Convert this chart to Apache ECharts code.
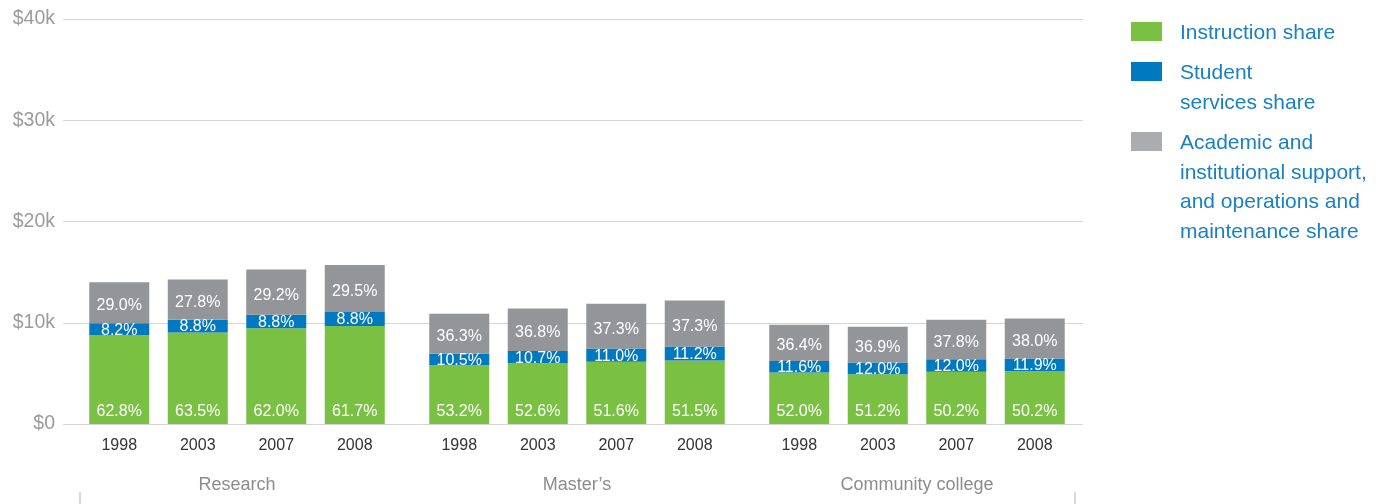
<!DOCTYPE html>
<html>
<head>
<meta charset="utf-8">
<script src="https://cdn.jsdelivr.net/npm/echarts@6/dist/echarts.min.js"></script>
<style>
  html, body { margin: 0; padding: 0; background: #ffffff; }
  #chart { width: 1392px; height: 504px; }
</style>
</head>
<body>
<div id="chart"></div>
<script>
// Spending per student by institution type, split into shares
const years = ['1998', '2003', '2007', '2008'];
const groups = ['Research', 'Master\u2019s', 'Community college'];

// Total spending per student (dollars)
const researchTotal = [14000, 14250, 15250, 15700];
const mastersTotal = [10900, 11400, 11900, 12200];
const communityTotal = [9800, 9600, 10300, 10400];

// Shares of the total (percent)
const researchInstruction = [62.8, 63.5, 62.0, 61.7];
const researchStudent = [8.2, 8.8, 8.8, 8.8];
const researchSupport = [29.0, 27.8, 29.2, 29.5];

const mastersInstruction = [53.2, 52.6, 51.6, 51.5];
const mastersStudent = [10.5, 10.7, 11.0, 11.2];
const mastersSupport = [36.3, 36.8, 37.3, 37.3];

const communityInstruction = [52.0, 51.2, 50.2, 50.2];
const communityStudent = [11.6, 12.0, 12.0, 11.9];
const communitySupport = [36.4, 36.9, 37.8, 38.0];

const yTicks = [0, 10000, 20000, 30000, 40000];

const shareNames = [
  'Instruction share',
  'Student\nservices share',
  'Academic and\ninstitutional support,\nand operations and\nmaintenance share'
];
const shareColors = ['#7ac143', '#0079c1', '#939598'];
const legendColors = ['#7ac143', '#0079c1', '#abacaf'];

const totals = [researchTotal, mastersTotal, communityTotal];
const shares = [
  [researchInstruction, researchStudent, researchSupport],
  [mastersInstruction, mastersStudent, mastersSupport],
  [communityInstruction, communityStudent, communitySupport]
];

const FONT = '"Liberation Sans", Arial, Helvetica, sans-serif';
const yMin = yTicks[0];
const yMax = yTicks[yTicks.length - 1];
const yStep = yTicks[1] - yTicks[0];

// Layout: one background grid for the value scale, one grid per group
const plotTop = 19, plotBottom = 80;
const groupLefts = [80, 420, 760];
const groupWidth = 314;

const grids = [{ left: 63, right: 309, top: plotTop, bottom: plotBottom }];
groupLefts.forEach(l => grids.push({ left: l, width: groupWidth, top: plotTop, bottom: plotBottom }));
// bracket ticks under the group names
grids.push({ left: 80, right: 317, bottom: 12, height: 1 });

const xAxes = [{ gridIndex: 0, type: 'category', data: [''], show: false }];
const yAxes = [{
  gridIndex: 0, type: 'value', min: yMin, max: yMax, interval: yStep,
  axisLine: { show: false }, axisTick: { show: false },
  axisLabel: {
    fontSize: 19.5, color: '#9b9b9b', margin: 8, fontFamily: FONT,
    formatter: v => v === 0 ? '$0' : '$' + (v / 1000) + 'k'
  },
  splitLine: { show: true, lineStyle: { color: '#d5d5d5', width: 1 } }
}];

groups.forEach((g, gi) => {
  xAxes.push({
    gridIndex: gi + 1, type: 'category', data: years,
    axisLine: { show: false }, axisTick: { show: false },
    axisLabel: { fontSize: 16, color: '#333333', margin: 14, fontFamily: FONT },
    name: g, nameLocation: 'middle', nameGap: 52,
    nameTextStyle: { fontSize: 18, color: '#8c8c8c', fontFamily: FONT }
  });
  yAxes.push({ gridIndex: gi + 1, type: 'value', min: yMin, max: yMax, interval: yStep, show: false, splitLine: { show: false } });
});

xAxes.push({
  gridIndex: 4, type: 'category', data: [''],
  axisLine: { show: false },
  axisTick: { show: true, length: 13, lineStyle: { color: '#cccccc', width: 1.5 } },
  axisLabel: { show: false }
});
yAxes.push({ gridIndex: 4, type: 'value', show: false });

const labelPos = [
  { position: 'insideBottom', distance: 4 },
  { position: 'inside', offset: [0, 1] },
  { position: 'inside', offset: [0, 3] }
];

const series = [];
groups.forEach((g, gi) => {
  shares[gi].forEach((pct, si) => {
    series.push({
      name: shareNames[si],
      type: 'bar',
      stack: 'group' + gi,
      xAxisIndex: gi + 1,
      yAxisIndex: gi + 1,
      barWidth: 60,
      itemStyle: { color: shareColors[si] },
      label: Object.assign({
        show: true,
        color: '#ffffff',
        fontSize: 16,
        fontFamily: FONT,
        formatter: p => pct[p.dataIndex].toFixed(1) + '%'
      }, labelPos[si]),
      data: totals[gi].map((t, i) => t * pct[i] / 100)
    });
  });
});

// Legend drawn as swatches with wrapped captions
const legendTops = [22, 62, 132];
const legendGraphic = [];
shareNames.forEach((n, i) => {
  legendGraphic.push({
    type: 'rect', left: 1131, top: legendTops[i],
    shape: { width: 31, height: 19 },
    style: { fill: legendColors[i] }
  });
  legendGraphic.push({
    type: 'text', left: 1180, top: legendTops[i] - 3.5,
    style: { text: n, fill: '#1a80c4', fontSize: 21, lineHeight: 29.5, fontFamily: FONT }
  });
});

const chart = echarts.init(document.getElementById('chart'), null, { renderer: 'canvas' });
chart.setOption({
  animation: false,
  textStyle: { fontFamily: FONT },
  grid: grids,
  xAxis: xAxes,
  yAxis: yAxes,
  series: series,
  graphic: legendGraphic
});
</script>
</body>
</html>
